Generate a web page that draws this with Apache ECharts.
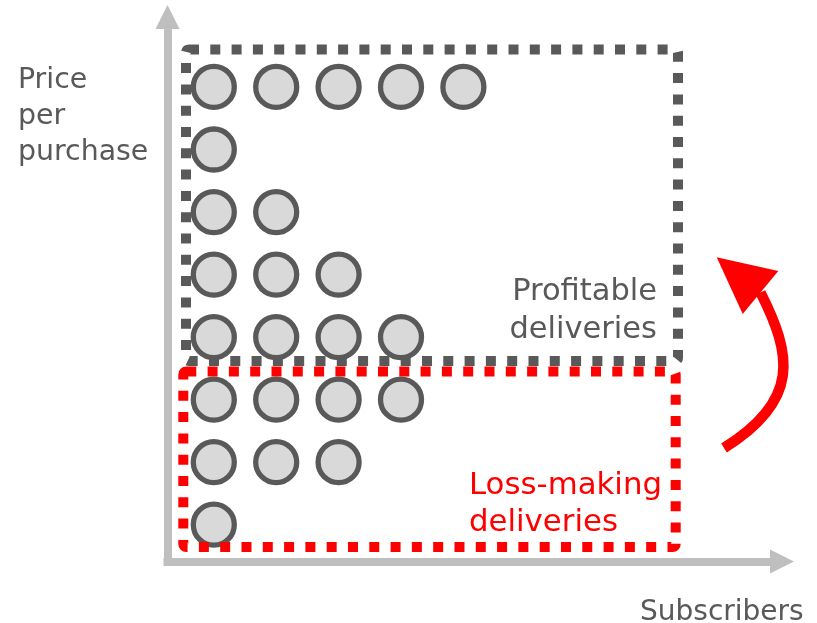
<!DOCTYPE html>
<html>
<head>
<meta charset="utf-8">
<script src="https://cdn.jsdelivr.net/npm/echarts@6/dist/echarts.min.js"></script>
<style>
html,body{margin:0;padding:0;background:#fff;}
#chart{width:817px;height:623px;}
</style>
</head>
<body>
<div id="chart"></div>
<script>
// Number of circles in each row, from the bottom row (1) to the top row (8)
const rowCounts = [1, 3, 4, 4, 3, 2, 1, 5];
const rows = [1, 2, 3, 4, 5, 6, 7, 8];
const yAxisName = ['Price', 'per', 'purchase'];
const xAxisName = 'Subscribers';
const profitLabel = ['Profitable', 'deliveries'];
const lossLabel = ['Loss-making', 'deliveries'];

const points = [];
rows.forEach(function (r, i) {
  for (let c = 1; c <= rowCounts[i]; c++) points.push([c, r]);
});

const GRAY = '#595959';
const AXIS = '#bfbfbf';
const RED = '#ff0000';
const FONT = '"DejaVu Sans", Verdana, sans-serif';

const chart = echarts.init(document.getElementById('chart'), null, {renderer: 'canvas'});
const option = {
  animation: false,
  backgroundColor: '#ffffff',
  grid: {left: 167.5, right: 35, top: 17, bottom: 61.5},
  xAxis: {
    type: 'value', min: 0.258, max: 10.106,
    axisLine: {show: true, symbol: ['none', 'triangle'], symbolSize: [24, 24],
      lineStyle: {color: AXIS, width: 8, cap: 'square'}},
    axisTick: {show: false}, axisLabel: {show: false}, splitLine: {show: false}
  },
  yAxis: {
    type: 'value', min: 0.4115, max: 9.119,
    axisLine: {show: true, symbol: ['none', 'triangle'], symbolSize: [24, 24],
      lineStyle: {color: AXIS, width: 8, cap: 'square'}},
    axisTick: {show: false}, axisLabel: {show: false}, splitLine: {show: false}
  },
  series: [{
    type: 'scatter',
    data: points,
    symbol: 'circle',
    symbolSize: 41,
    itemStyle: {color: '#d9d9d9', borderColor: GRAY, borderWidth: 5.3, opacity: 1},
    emphasis: {disabled: true},
    z: 2
  }],
  graphic: [
    {type: 'rect', z: 100, shape: {x: 186, y: 49.5, width: 492, height: 311.5, r: 3},
      style: {fill: 'none', stroke: GRAY, lineWidth: 10, lineDash: [10, 11.3]}},
    {type: 'rect', z: 101, shape: {x: 183.3, y: 371.5, width: 492.4, height: 175.5, r: 3},
      style: {fill: 'none', stroke: RED, lineWidth: 10, lineDash: [10, 11.3]}},
    {type: 'text', z: 110, style: {text: yAxisName.join('\n'), x: 18, y: 117,
      font: '28.4px ' + FONT, fill: GRAY, textAlign: 'left', textVerticalAlign: 'middle', lineHeight: 36}},
    {type: 'text', z: 110, style: {text: xAxisName, x: 640, y: 613,
      font: '28px ' + FONT, fill: GRAY, textAlign: 'left', textVerticalAlign: 'middle'}},
    {type: 'text', z: 110, style: {text: profitLabel.join('\n'), x: 657, y: 311,
      font: '30.5px ' + FONT, fill: GRAY, textAlign: 'right', textVerticalAlign: 'middle', lineHeight: 38}},
    {type: 'text', z: 110, style: {text: lossLabel.join('\n'), x: 469, y: 504,
      font: '30.8px ' + FONT, fill: RED, textAlign: 'left', textVerticalAlign: 'middle', lineHeight: 37}},
    {type: 'bezierCurve', z: 110, shape: {x1: 724, y1: 448, cpx1: 800.5, cpy1: 400.3, cpx2: 792, cpy2: 354.8, x2: 760.5, y2: 292.5},
      style: {fill: 'none', stroke: RED, lineWidth: 10.5, lineCap: 'butt'}},
    {type: 'polygon', z: 111, shape: {points: [[716.7, 257.3], [778.3, 271], [742.7, 314]]},
      style: {fill: RED, stroke: 'none'}}
  ]
};
chart.setOption(option);
</script>
</body>
</html>
